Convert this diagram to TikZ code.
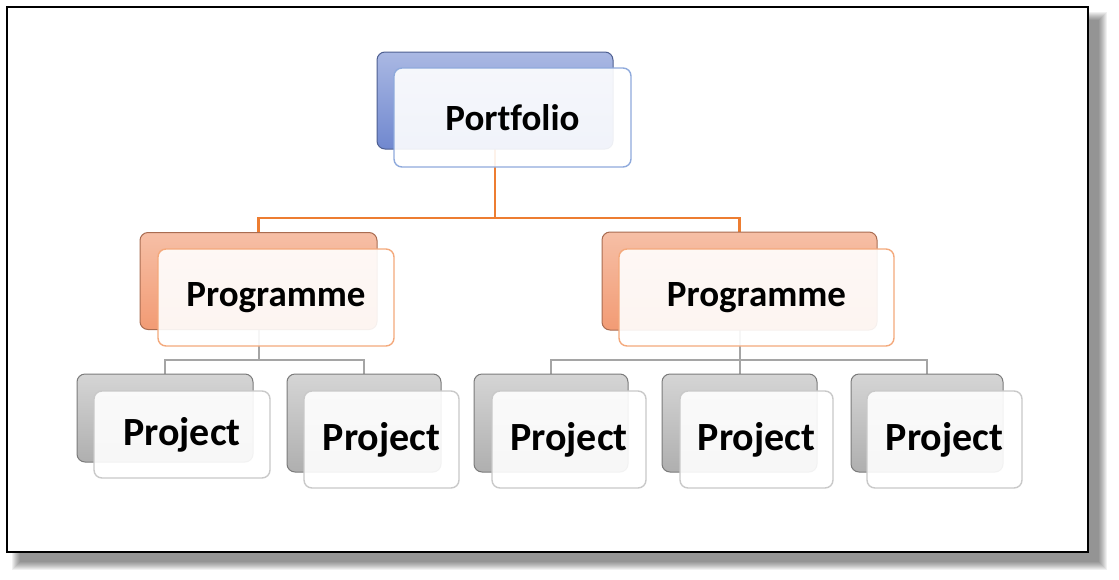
\documentclass[tikz,border=0pt]{standalone}
\usepackage{fontspec}
\setmainfont{Carlito}[Ligatures=NoCommon]
\usepackage{tikz}
\usepackage{xcolor}
\usetikzlibrary{calc}
\definecolor{BlueTop}{HTML}{AAB8E3}
\definecolor{BlueBot}{HTML}{7088CF}
\definecolor{BlueEdge}{HTML}{8FAADC}
\definecolor{OrgTop}{HTML}{F6BFA6}
\definecolor{OrgBot}{HTML}{F29B74}
\definecolor{OrgEdge}{HTML}{F4A97C}
\definecolor{OrgLine}{HTML}{ED7D31}
\definecolor{GrayTop}{HTML}{D5D5D5}
\definecolor{GrayBot}{HTML}{AFAFAF}
\definecolor{GrayEdge}{HTML}{C9C9C9}
\definecolor{GrayLine}{HTML}{A5A5A5}

\tikzset{
  backbox/.style={rounded corners=8pt,draw=#1Bot!70!black,line width=1pt,
    top color=#1Top,bottom color=#1Bot,inner sep=0pt,outer sep=0pt},
  frontbox/.style={rounded corners=8pt,draw=#1Edge,line width=1.4pt,
    fill=white,fill opacity=0.9,text opacity=1,inner sep=0pt,outer sep=0pt,
    font=\bfseries\fontsize{37}{40}\selectfont},
  projfont/.style={font=\bfseries\fontsize{40}{44}\selectfont},
  orgline/.style={OrgLine,line width=2.2pt},
  grayline/.style={GrayLine,line width=2pt}
}

\begin{document}
\begin{tikzpicture}[x=1pt,y=-1pt]
  \useasboundingbox (0,0) rectangle (1119,579);
  \foreach \s in {0,1,...,8}
    \fill[black,opacity=0.06] (12+\s,12+\s) rectangle (1107-\s,570-\s);
  \draw[fill=white,line width=2pt] (7,7) rectangle (1088,552);

  \coordinate (j1) at (495,218);
  \coordinate (j2) at (258.5,360);
  \coordinate (j3) at (739.5,360);

  \draw[orgline] (495,100) -- (j1) -| (258.5,281);
  \draw[orgline] (j1) -| (739.5,281);
  \draw[grayline] (258.5,281) -- (j2) -| (165,418);
  \draw[grayline] (j2) -| (364,423);
  \draw[grayline] (739.5,281) -- (j3) -| (551,423);
  \draw[grayline] (j3) -- (739.5,423);
  \draw[grayline] (j3) -| (927,423);

  \node[backbox=Blue,minimum width=236pt,minimum height=97pt] (pfb) at (495,100.5) {};
  \node[frontbox=Blue,minimum width=237pt,minimum height=99pt] (pf) at (512.5,117.5) {Portfolio};

  \node[backbox=Org,minimum width=237pt,minimum height=97pt] (pg1b) at (258.5,281) {};
  \node[frontbox=Org,minimum width=236pt,minimum height=97pt] (pg1) at (276,297.5) {Programme};
  \node[backbox=Org,minimum width=275pt,minimum height=98pt] (pg2b) at (739.5,281) {};
  \node[frontbox=Org,minimum width=275pt,minimum height=97pt] (pg2) at (756.5,297.5) {Programme};

  \node[backbox=Gray,minimum width=176pt,minimum height=88pt] (pj1b) at (165,418) {};
  \node[frontbox=Gray,projfont,minimum width=176pt,minimum height=87pt] (pj1) at (182,434.5) {Project};
  \node[backbox=Gray,minimum width=154pt,minimum height=98pt] (pj2b) at (364,423) {};
  \node[frontbox=Gray,projfont,minimum width=155pt,minimum height=97pt] (pj2) at (381.5,439.5) {Project};
  \node[backbox=Gray,minimum width=154pt,minimum height=98pt] (pj3b) at (551,423) {};
  \node[frontbox=Gray,projfont,minimum width=154pt,minimum height=97pt] (pj3) at (569,439.5) {Project};
  \node[backbox=Gray,minimum width=155pt,minimum height=98pt] (pj4b) at (739.5,423) {};
  \node[frontbox=Gray,projfont,minimum width=153pt,minimum height=97pt] (pj4) at (756.5,439.5) {Project};
  \node[backbox=Gray,minimum width=152pt,minimum height=98pt] (pj5b) at (927,423) {};
  \node[frontbox=Gray,projfont,minimum width=155pt,minimum height=97pt] (pj5) at (944.5,439.5) {Project};
\end{tikzpicture}
\end{document}
